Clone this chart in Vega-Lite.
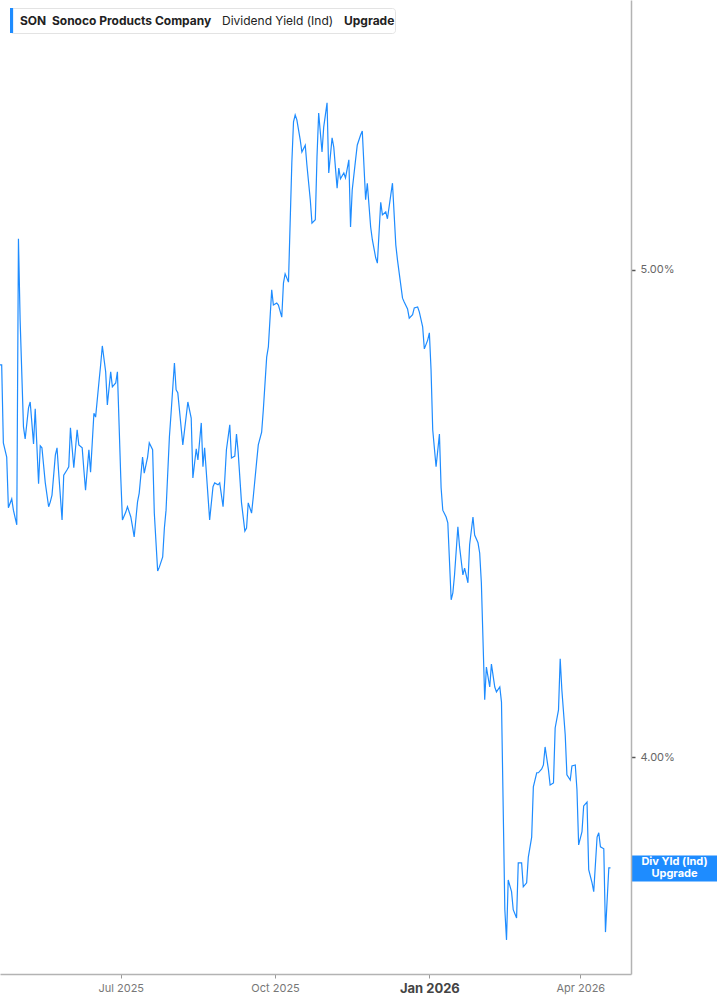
{
  "$schema": "https://vega.github.io/schema/vega-lite/v6.json",
  "width": 631,
  "height": 974,
  "autosize": "none",
  "padding": {"left": 0, "top": 0, "right": 86, "bottom": 31},
  "background": "white",
  "config": {"view": {"stroke": null}, "font": "Inter"},
  "data": {"values": [
    {"d":"2025-04-20","v":4.805},{"d":"2025-04-21","v":4.805},{"d":"2025-04-22","v":4.645},{"d":"2025-04-24","v":4.616},{"d":"2025-04-25","v":4.512},{"d":"2025-04-27","v":4.530},{"d":"2025-04-28","v":4.507},{"d":"2025-04-30","v":4.477},
    {"d":"2025-05-01","v":5.064},{"d":"2025-05-02","v":4.897},{"d":"2025-05-04","v":4.678},{"d":"2025-05-05","v":4.653},{"d":"2025-05-07","v":4.717},{"d":"2025-05-08","v":4.729},{"d":"2025-05-10","v":4.643},{"d":"2025-05-11","v":4.715},{"d":"2025-05-13","v":4.561},{"d":"2025-05-14","v":4.639},{"d":"2025-05-15","v":4.635},{"d":"2025-05-17","v":4.563},{"d":"2025-05-19","v":4.514},{"d":"2025-05-20","v":4.524},{"d":"2025-05-21","v":4.538},{"d":"2025-05-23","v":4.620},{"d":"2025-05-24","v":4.635},{"d":"2025-05-25","v":4.583},{"d":"2025-05-27","v":4.487},{"d":"2025-05-28","v":4.579},{"d":"2025-05-30","v":4.590},{"d":"2025-05-31","v":4.596},
    {"d":"2025-06-01","v":4.676},{"d":"2025-06-03","v":4.594},{"d":"2025-06-05","v":4.672},{"d":"2025-06-06","v":4.641},{"d":"2025-06-08","v":4.635},{"d":"2025-06-09","v":4.590},{"d":"2025-06-10","v":4.548},{"d":"2025-06-12","v":4.631},{"d":"2025-06-13","v":4.585},{"d":"2025-06-15","v":4.706},{"d":"2025-06-16","v":4.698},{"d":"2025-06-18","v":4.770},{"d":"2025-06-19","v":4.805},{"d":"2025-06-20","v":4.844},{"d":"2025-06-22","v":4.791},{"d":"2025-06-23","v":4.723},{"d":"2025-06-25","v":4.791},{"d":"2025-06-26","v":4.760},{"d":"2025-06-28","v":4.768},{"d":"2025-06-29","v":4.791},
    {"d":"2025-07-01","v":4.575},{"d":"2025-07-02","v":4.487},{"d":"2025-07-04","v":4.503},{"d":"2025-07-05","v":4.514},{"d":"2025-07-07","v":4.493},{"d":"2025-07-08","v":4.473},{"d":"2025-07-09","v":4.452},{"d":"2025-07-11","v":4.524},{"d":"2025-07-12","v":4.542},{"d":"2025-07-14","v":4.616},{"d":"2025-07-15","v":4.583},{"d":"2025-07-17","v":4.616},{"d":"2025-07-18","v":4.645},{"d":"2025-07-20","v":4.631},{"d":"2025-07-21","v":4.501},{"d":"2025-07-23","v":4.382},{"d":"2025-07-24","v":4.390},{"d":"2025-07-26","v":4.411},{"d":"2025-07-27","v":4.470},{"d":"2025-07-28","v":4.507},{"d":"2025-07-30","v":4.657},{"d":"2025-07-31","v":4.706},
    {"d":"2025-08-02","v":4.809},{"d":"2025-08-03","v":4.754},{"d":"2025-08-04","v":4.748},{"d":"2025-08-07","v":4.641},{"d":"2025-08-10","v":4.729},{"d":"2025-08-12","v":4.696},{"d":"2025-08-13","v":4.573},{"d":"2025-08-15","v":4.633},{"d":"2025-08-16","v":4.610},{"d":"2025-08-18","v":4.686},{"d":"2025-08-19","v":4.596},{"d":"2025-08-20","v":4.635},{"d":"2025-08-23","v":4.487},{"d":"2025-08-25","v":4.555},{"d":"2025-08-26","v":4.563},{"d":"2025-08-28","v":4.559},{"d":"2025-08-29","v":4.563},{"d":"2025-08-31","v":4.514},
    {"d":"2025-09-01","v":4.569},{"d":"2025-09-02","v":4.631},{"d":"2025-09-04","v":4.682},{"d":"2025-09-05","v":4.614},{"d":"2025-09-07","v":4.618},{"d":"2025-09-08","v":4.663},{"d":"2025-09-09","v":4.626},{"d":"2025-09-11","v":4.522},{"d":"2025-09-13","v":4.464},{"d":"2025-09-14","v":4.470},{"d":"2025-09-15","v":4.522},{"d":"2025-09-17","v":4.501},{"d":"2025-09-18","v":4.534},{"d":"2025-09-20","v":4.606},{"d":"2025-09-21","v":4.641},{"d":"2025-09-23","v":4.667},{"d":"2025-09-24","v":4.713},{"d":"2025-09-26","v":4.821},{"d":"2025-09-27","v":4.842},{"d":"2025-09-29","v":4.959},{"d":"2025-09-30","v":4.928},
    {"d":"2025-10-02","v":4.932},{"d":"2025-10-03","v":4.928},{"d":"2025-10-05","v":4.903},{"d":"2025-10-06","v":4.973},{"d":"2025-10-07","v":4.992},{"d":"2025-10-09","v":4.975},{"d":"2025-10-11","v":5.220},{"d":"2025-10-12","v":5.304},{"d":"2025-10-13","v":5.318},{"d":"2025-10-14","v":5.308},{"d":"2025-10-16","v":5.267},{"d":"2025-10-17","v":5.242},{"d":"2025-10-19","v":5.256},{"d":"2025-10-20","v":5.215},{"d":"2025-10-22","v":5.144},{"d":"2025-10-23","v":5.096},{"d":"2025-10-25","v":5.103},{"d":"2025-10-26","v":5.232},{"d":"2025-10-27","v":5.322},{"d":"2025-10-29","v":5.242},{"d":"2025-10-30","v":5.293},
    {"d":"2025-11-01","v":5.343},{"d":"2025-11-02","v":5.199},{"d":"2025-11-04","v":5.271},{"d":"2025-11-05","v":5.252},{"d":"2025-11-07","v":5.168},{"d":"2025-11-08","v":5.209},{"d":"2025-11-09","v":5.187},{"d":"2025-11-11","v":5.199},{"d":"2025-11-12","v":5.189},{"d":"2025-11-14","v":5.226},{"d":"2025-11-15","v":5.088},{"d":"2025-11-16","v":5.164},{"d":"2025-11-18","v":5.226},{"d":"2025-11-19","v":5.256},{"d":"2025-11-21","v":5.277},{"d":"2025-11-22","v":5.285},{"d":"2025-11-24","v":5.144},{"d":"2025-11-25","v":5.178},{"d":"2025-11-27","v":5.088},{"d":"2025-11-28","v":5.062},{"d":"2025-11-30","v":5.025},
    {"d":"2025-12-01","v":5.014},{"d":"2025-12-03","v":5.139},{"d":"2025-12-04","v":5.113},{"d":"2025-12-06","v":5.119},{"d":"2025-12-07","v":5.105},{"d":"2025-12-09","v":5.154},{"d":"2025-12-10","v":5.178},{"d":"2025-12-12","v":5.051},{"d":"2025-12-13","v":5.020},{"d":"2025-12-14","v":4.994},{"d":"2025-12-16","v":4.942},{"d":"2025-12-17","v":4.934},{"d":"2025-12-19","v":4.920},{"d":"2025-12-20","v":4.901},{"d":"2025-12-22","v":4.908},{"d":"2025-12-23","v":4.922},{"d":"2025-12-25","v":4.924},{"d":"2025-12-26","v":4.914},{"d":"2025-12-28","v":4.883},{"d":"2025-12-29","v":4.838},{"d":"2025-12-31","v":4.856},
    {"d":"2026-01-01","v":4.871},{"d":"2026-01-02","v":4.795},{"d":"2026-01-03","v":4.672},{"d":"2026-01-05","v":4.596},{"d":"2026-01-07","v":4.663},{"d":"2026-01-08","v":4.553},{"d":"2026-01-09","v":4.507},{"d":"2026-01-11","v":4.493},{"d":"2026-01-12","v":4.481},{"d":"2026-01-14","v":4.323},{"d":"2026-01-15","v":4.337},{"d":"2026-01-16","v":4.374},{"d":"2026-01-18","v":4.473},{"d":"2026-01-19","v":4.432},{"d":"2026-01-21","v":4.374},{"d":"2026-01-22","v":4.388},{"d":"2026-01-24","v":4.358},{"d":"2026-01-25","v":4.436},{"d":"2026-01-27","v":4.493},{"d":"2026-01-28","v":4.456},{"d":"2026-01-30","v":4.440},{"d":"2026-01-31","v":4.419},
    {"d":"2026-02-01","v":4.358},{"d":"2026-02-03","v":4.118},{"d":"2026-02-04","v":4.185},{"d":"2026-02-06","v":4.144},{"d":"2026-02-07","v":4.191},{"d":"2026-02-09","v":4.144},{"d":"2026-02-10","v":4.134},{"d":"2026-02-12","v":4.144},{"d":"2026-02-13","v":4.113},{"d":"2026-02-15","v":3.687},{"d":"2026-02-16","v":3.625},{"d":"2026-02-17","v":3.748},{"d":"2026-02-19","v":3.724},{"d":"2026-02-20","v":3.687},{"d":"2026-02-22","v":3.670},{"d":"2026-02-23","v":3.783},{"d":"2026-02-25","v":3.783},{"d":"2026-02-26","v":3.734},{"d":"2026-02-28","v":3.742},
    {"d":"2026-03-01","v":3.795},{"d":"2026-03-03","v":3.836},{"d":"2026-03-04","v":3.939},{"d":"2026-03-06","v":3.968},{"d":"2026-03-07","v":3.968},{"d":"2026-03-09","v":3.976},{"d":"2026-03-10","v":3.984},{"d":"2026-03-11","v":4.021},{"d":"2026-03-13","v":3.974},{"d":"2026-03-14","v":3.943},{"d":"2026-03-16","v":3.947},{"d":"2026-03-17","v":4.060},{"d":"2026-03-19","v":4.097},{"d":"2026-03-20","v":4.202},{"d":"2026-03-21","v":4.138},{"d":"2026-03-23","v":4.046},{"d":"2026-03-24","v":3.964},{"d":"2026-03-26","v":3.953},{"d":"2026-03-27","v":3.982},{"d":"2026-03-29","v":3.984},{"d":"2026-03-30","v":3.933},{"d":"2026-03-31","v":3.820},
    {"d":"2026-04-02","v":3.847},{"d":"2026-04-03","v":3.900},{"d":"2026-04-05","v":3.908},{"d":"2026-04-06","v":3.769},{"d":"2026-04-08","v":3.742},{"d":"2026-04-09","v":3.724},{"d":"2026-04-11","v":3.836},{"d":"2026-04-12","v":3.845},{"d":"2026-04-13","v":3.816},{"d":"2026-04-15","v":3.812},{"d":"2026-04-16","v":3.641},{"d":"2026-04-18","v":3.773},{"d":"2026-04-19","v":3.773}
  ]},
  "mark": {"type": "line", "strokeWidth": 1.2, "interpolate": "linear"},
  "encoding": {
    "x": {
      "field": "d", "type": "temporal",
      "scale": {"type": "utc", "domain": [
        {"year": 2025, "month": 4, "date": 20, "utc": true},
        {"year": 2026, "month": 5, "date": 1, "hours": 5, "minutes": 17, "utc": true}
      ]},
      "axis": {
        "title": null,
        "values": [
          {"year": 2025, "month": 7, "date": 1, "utc": true},
          {"year": 2025, "month": 10, "date": 1, "utc": true},
          {"year": 2026, "month": 1, "date": 1, "utc": true},
          {"year": 2026, "month": 4, "date": 1, "utc": true}
        ],
        "format": "%b %Y",
        "grid": false,
        "domainColor": "#b3b3b3", "domainWidth": 1.5,
        "tickColor": "#999", "tickSize": 4, "tickWidth": 1,
        "labelPadding": 4,
        "labelFont": "Inter",
        "labelFontSize": {"condition": {"test": "utcmonth(datum.value) == 0", "value": 13}, "value": 11},
        "labelFontWeight": {"condition": {"test": "utcmonth(datum.value) == 0", "value": "bold"}, "value": "normal"},
        "labelColor": {"condition": {"test": "utcmonth(datum.value) == 0", "value": "#444"}, "value": "#777"},
        "labelFlush": false, "labelOverlap": false
      }
    },
    "y": {
      "field": "v", "type": "quantitative",
      "scale": {"domain": [3.555, 5.554], "nice": false, "zero": false},
      "axis": {
        "orient": "right",
        "title": null,
        "grid": false,
        "values": [3.773, 4, 5],
        "domainColor": "#b3b3b3", "domainWidth": 1.5,
        "tickColor": {"condition": {"test": "datum.value < 3.9", "value": "#1e8cff"}, "value": "#555"},
        "tickSize": {"condition": {"test": "datum.value < 3.9", "value": 86}, "value": 4},
        "tickWidth": {"condition": {"test": "datum.value < 3.9", "value": 26}, "value": 1.5},
        "labelPadding": {"condition": {"test": "datum.value < 3.9", "value": -43}, "value": 5},
        "labelOffset": {"condition": {"test": "datum.value < 3.9", "value": -6}, "value": 0},
        "labelAlign": {"condition": {"test": "datum.value < 3.9", "value": "center"}, "value": "left"},
        "labelColor": {"condition": {"test": "datum.value < 3.9", "value": "white"}, "value": "#666"},
        "labelFontWeight": {"condition": {"test": "datum.value < 3.9", "value": "bold"}, "value": "normal"},
        "labelFont": "Inter", "labelFontSize": 11, "labelLineHeight": 12,
        "labelExpr": "datum.value < 3.9 ? ['Div Yld (Ind)', 'Upgrade'] : format(datum.value, '.2f') + '%'",
        "labelOverlap": false, "labelBound": false, "labelFlush": false
      }
    },
    "color": {
      "datum": "SON\u00a0\u00a0Sonoco Products Company",
      "type": "nominal",
      "scale": {
        "domain": ["SON\u00a0\u00a0Sonoco Products Company", "Dividend Yield (Ind)\u00a0\u00a0", "Upgrade\u00a0\u00a0"],
        "range": ["#1e8cff", "#1e8cff", "#1e8cff"]
      },
      "legend": {
        "title": null,
        "orient": "none", "legendX": 10, "legendY": 8,
        "direction": "horizontal",
        "padding": 0,
        "fillColor": "white", "strokeColor": "#e3e3e3", "cornerRadius": 3,
        "symbolType": "M-1,-1H-0.75V1H-1Z",
        "symbolSize": 625,
        "symbolStrokeWidth": 0,
        "labelOffset": -15,
        "columnPadding": -5,
        "labelFont": "Inter", "labelFontSize": 12, "labelColor": "#222", "labelLimit": 500,
        "encode": {
          "symbols": {"update": {
            "fill": {"value": "#1e8cff"},
            "stroke": {"value": "transparent"},
            "opacity": {"signal": "indexof(datum.value, 'SON') === 0 ? 1 : 0"}
          }},
          "labels": {"update": {
            "fontWeight": {"signal": "indexof(datum.value, 'Dividend') === 0 ? 'normal' : 'bold'"}
          }}
        }
      }
    }
  }
}
